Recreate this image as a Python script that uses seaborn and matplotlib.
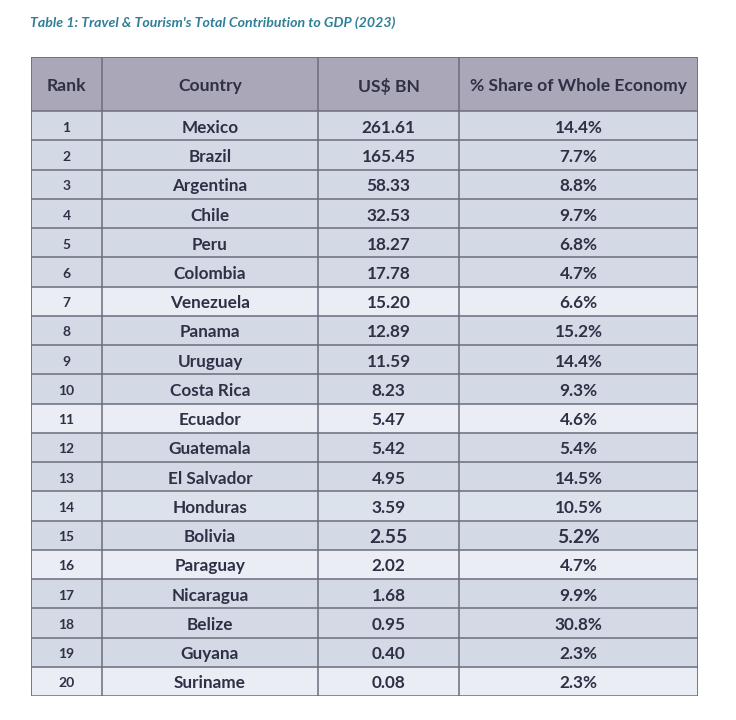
import matplotlib
matplotlib.use("Agg")
import matplotlib.pyplot as plt
import seaborn as sns

title = "Table 1: Travel & Tourism's Total Contribution to GDP (2023)"
headers = ["Rank", "Country", "US$ BN", "% Share of Whole Economy"]
ranks = [str(i) for i in range(1, 21)]
countries = ["Mexico", "Brazil", "Argentina", "Chile", "Peru", "Colombia",
             "Venezuela", "Panama", "Uruguay", "Costa Rica", "Ecuador",
             "Guatemala", "El Salvador", "Honduras", "Bolivia", "Paraguay",
             "Nicaragua", "Belize", "Guyana", "Suriname"]
usd_bn = ["261.61", "165.45", "58.33", "32.53", "18.27", "17.78", "15.20",
          "12.89", "11.59", "8.23", "5.47", "5.42", "4.95", "3.59", "2.55",
          "2.02", "1.68", "0.95", "0.40", "0.08"]
share = ["14.4%", "7.7%", "8.8%", "9.7%", "6.8%", "4.7%", "6.6%", "15.2%",
         "14.4%", "9.3%", "4.6%", "5.4%", "14.5%", "10.5%", "5.2%", "4.7%",
         "9.9%", "30.8%", "2.3%", "2.3%"]

sns.set_theme(style="white")
plt.rcParams["font.family"] = ["Lato", "DejaVu Sans"]

W, H = 736, 720
fig = plt.figure(figsize=(W / 100, H / 100), dpi=100)
fig.patch.set_facecolor("white")

left, right, top, bottom = 31, 698, 57, 696
ax = fig.add_axes([left / W, (H - bottom) / H, (right - left) / W, (bottom - top) / H])

col_edges = [0, 71, 287, 428, 667]
total_w = col_edges[-1]
header_h = 1.85

dark = "#d3dae6"
light = "#eaedf4"
mid = "#dce2ec"
row_colors = [dark] * 20
for i in (6, 10, 15, 19):
    row_colors[i] = light
row_colors[13] = mid

sns.barplot(x=[total_w] * 20, y=ranks, hue=ranks, palette=row_colors,
            orient="h", width=1.0, legend=False, ax=ax, saturation=1,
            linewidth=0)
ax.barh(-0.5 - header_h / 2, total_w, height=header_h, left=0,
        color="#aaa7b9", linewidth=0)

ax.set_xlim(0, total_w)
ax.set_ylim(19.5, -0.5 - header_h)
ax.axis("off")

line_c = "#6c6d7e"
for k in range(21):
    ax.plot([0, total_w], [k - 0.5, k - 0.5], color=line_c, lw=1.1, zorder=3)
ax.plot([0, total_w], [-0.5 - header_h] * 2, color=line_c, lw=1.3, zorder=3)
for xe in col_edges:
    ax.plot([xe, xe], [-0.5 - header_h, 19.5], color=line_c,
            lw=1.3 if xe in (0, total_w) else 1.1, zorder=3)

centers = [(col_edges[i] + col_edges[i + 1]) / 2 for i in range(4)]
txt_c = "#2f3046"
dy = 0.07
for c, h in zip(centers, headers):
    ax.text(c, -0.5 - header_h / 2 + dy, h, ha="center", va="center",
            fontsize=12.6, fontweight="bold", color=txt_c, zorder=4)

for i in range(20):
    big = 1.13 if countries[i] == "Bolivia" else 1.0
    ax.text(centers[0], i + dy, ranks[i], ha="center", va="center",
            fontsize=10, fontweight="bold", color=txt_c, zorder=4)
    ax.text(centers[1], i + dy, countries[i], ha="center", va="center",
            fontsize=12.3, fontweight="bold", color=txt_c, zorder=4)
    ax.text(centers[2], i + dy, usd_bn[i], ha="center", va="center",
            fontsize=12.3 * big, fontweight="bold", color=txt_c, zorder=4)
    ax.text(centers[3], i + dy, share[i], ha="center", va="center",
            fontsize=12.3 * big, fontweight="bold", color=txt_c, zorder=4)

fig.text(30 / W, 1 - 23 / H, title, ha="left", va="center", fontsize=10.2,
         fontstyle="italic", fontweight="bold", color="#2e7f97")

fig.savefig("out.png", dpi=100)
